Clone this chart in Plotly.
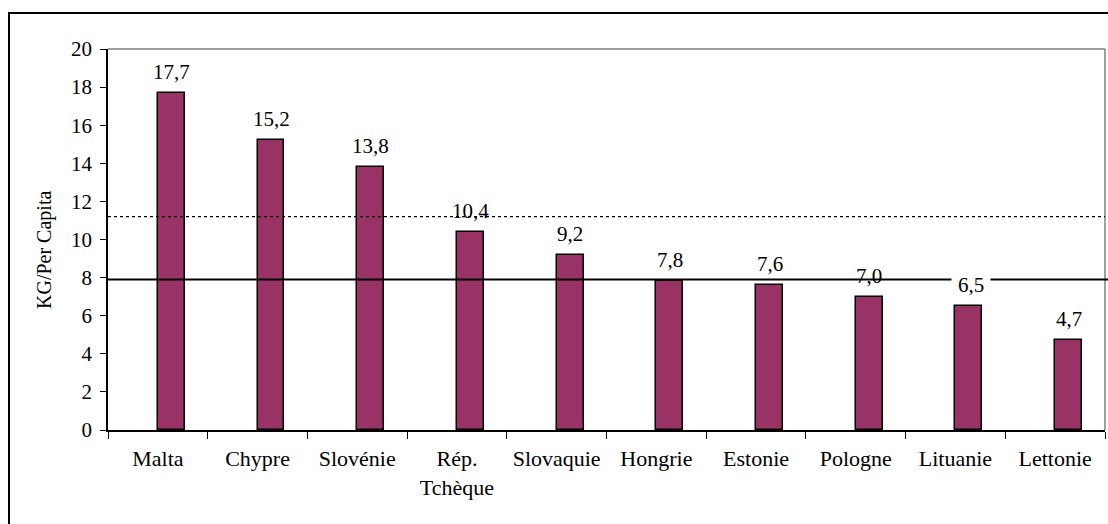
import plotly.graph_objects as go

countries = ["Malta", "Chypre", "Slovénie", "Rép.<br>Tchèque", "Slovaquie",
             "Hongrie", "Estonie", "Pologne", "Lituanie", "Lettonie"]
values = [17.7, 15.2, 13.8, 10.4, 9.2, 7.8, 7.6, 7.0, 6.5, 4.7]
solid_ref = 7.9
dotted_ref = 11.2
y_ticks = [0, 2, 4, 6, 8, 10, 12, 14, 16, 18, 20]

FONT = "Liberation Serif, Times New Roman, serif"
W, H = 1108, 524
L, R, T, B = 108, 3, 49, 94
pw, ph = W - L - R, H - T - B

BAR_W = 0.27

fig = go.Figure()
fig.add_trace(go.Bar(
    x=countries, y=values,
    offset=0, width=BAR_W,
    marker=dict(color="#993366", line=dict(color="black", width=1.5)),
    showlegend=False, hoverinfo="skip",
))

annotations = []
for i, v in enumerate(values):
    lab = f"{v:.1f}".replace(".", ",")
    a = dict(x=i + BAR_W / 2, y=v, xref="x", yref="y", text=lab, showarrow=False,
             yanchor="bottom", yshift=7, font=dict(family=FONT, size=21, color="black"))
    if i == 8:
        a.update(bgcolor="white", width=36, xshift=2)
    annotations.append(a)

annotations.append(dict(
    x=(45 - L) / pw, y=(H - B - 250) / ph, xref="paper", yref="paper",
    text="KG/Per Capita", textangle=-90, showarrow=False,
    xanchor="center", yanchor="middle",
    font=dict(family=FONT, size=20, color="black"),
))

shapes = [
    # outer chart border
    dict(type="rect", xref="paper", yref="paper",
         x0=(9 - L) / pw, x1=(1115 - L) / pw,
         y0=-(B + 10) / ph, y1=1 + (T - 13) / ph,
         line=dict(color="black", width=2), layer="below"),
    # plot-area frame (top and right)
    dict(type="line", xref="paper", yref="paper", x0=0, x1=1, y0=1, y1=1,
         line=dict(color="#808080", width=1.5)),
    dict(type="line", xref="paper", yref="paper", x0=1, x1=1, y0=0, y1=1,
         line=dict(color="#808080", width=1.5)),
    # reference lines
    dict(type="line", xref="paper", yref="y", x0=0, x1=1.004,
         y0=solid_ref, y1=solid_ref, line=dict(color="black", width=2)),
    dict(type="line", xref="paper", yref="y", x0=0, x1=1,
         y0=dotted_ref, y1=dotted_ref, line=dict(color="black", width=1.2, dash="dot")),
]

fig.update_layout(
    width=W, height=H,
    margin=dict(l=L, r=R, t=T, b=B, pad=0),
    paper_bgcolor="white", plot_bgcolor="white",
    showlegend=False,
    bargap=0,
    annotations=annotations,
    shapes=shapes,
    xaxis=dict(
        type="category", categoryorder="array", categoryarray=countries,
        range=[-0.5, len(countries) - 0.5],
        tickson="boundaries",
        showline=True, linecolor="black", linewidth=1.5,
        ticks="outside", ticklen=7, tickcolor="black", tickwidth=1,
        showgrid=False, zeroline=False,
        tickfont=dict(family=FONT, size=22, color="black"),
        ticklabelstandoff=8,
    ),
    yaxis=dict(
        range=[0, 20], tickvals=y_ticks,
        showline=True, linecolor="black", linewidth=1.5,
        ticks="outside", ticklen=6, tickcolor="black", tickwidth=1,
        showgrid=False, zeroline=False,
        tickfont=dict(family=FONT, size=21, color="black"),
        ticklabelstandoff=4,
    ),
)

fig.write_html("out.html",
               config={"displayModeBar": False},
               post_script="document.body.style.margin='0px';document.body.style.overflow='hidden';")
